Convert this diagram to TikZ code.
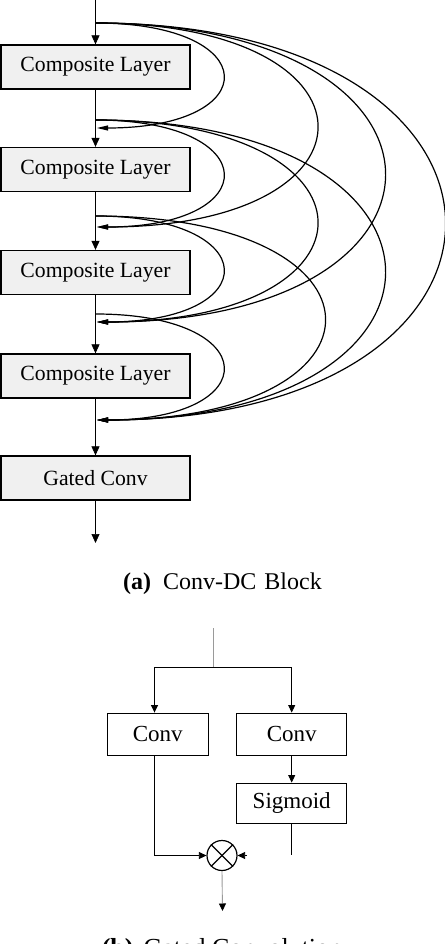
\documentclass[tikz,border=0pt]{standalone}
\usepackage{fontspec}
\setmainfont{Liberation Serif}
\usetikzlibrary{arrows.meta}
\definecolor{boxgray}{HTML}{F0F0F0}
\definecolor{linegray}{HTML}{9A9A9A}
\begin{document}
\begin{tikzpicture}[x=1pt,y=-1pt,
  layerbox/.style={draw=black, line width=1.3pt, fill=boxgray, minimum width=189pt, minimum height=44pt, inner sep=0pt, font=\fontsize{21.7}{26}\selectfont},
  plainbox/.style={draw=black, line width=0.9pt, minimum height=42pt, inner sep=0pt, font=\fontsize{23}{27}\selectfont},
  mainarrow/.style={line width=0.7pt, -{Triangle[length=9pt,width=8pt]}},
  skiparrow/.style={line width=1.2pt, -{Triangle[length=11pt,width=5pt]}},
  barrow/.style={line width=0.8pt, -{Triangle[length=7.5pt,width=7pt]}},
  thinline/.style={line width=0.8pt},
  grayline/.style={line width=0.9pt, draw=linegray},
  captiona/.style={anchor=base, inner sep=0pt, font=\fontsize{24}{28}\selectfont},
  captionb/.style={anchor=base, inner sep=0pt, font=\fontsize{26}{30}\selectfont}
]
\useasboundingbox (0,0) rectangle (444,944);

% ---------- (a) Conv-DC block ----------
\node[layerbox] (b1) at (95.5,67) {Composite Layer};
\node[layerbox] (b2) at (95.5,169.5) {Composite Layer};
\node[layerbox] (b3) at (95.5,272.5) {Composite Layer};
\node[layerbox] (b4) at (95.5,376) {Composite Layer};
\node[layerbox] (g) at (95.5,478) {Gated Conv};

\coordinate (top) at (95.5,0);
\coordinate (outa) at (95.5,543);

\draw[mainarrow] (top) -- (b1.north);
\draw[mainarrow] (b1.south) -- (b2.north);
\draw[mainarrow] (b2.south) -- (b3.north);
\draw[mainarrow] (b3.south) -- (b4.north);
\draw[mainarrow] (b4.south) -- (g.north);
\draw[mainarrow] (g.south) -- (outa);

% skip connection points
\coordinate (s0) at (95.5,23);
\coordinate (s1) at (95.5,120);
\coordinate (s2) at (95.5,216);
\coordinate (s3) at (95.5,314);
\coordinate (t1) at (97,128);
\coordinate (t2) at (97,227);
\coordinate (t3) at (97,322);
\coordinate (t4) at (97,420);

% from s0
\draw[skiparrow] (s0) .. controls +(169,0) and +(169,0) .. (t1);
\draw[skiparrow] (s0) .. controls +(294,0) and +(294,0) .. (t2);
\draw[skiparrow] (s0) .. controls +(384,0) and +(384,0) .. (t3);
\draw[skiparrow] (s0) .. controls +(464,0) and +(464,0) .. (t4);
% from s1
\draw[skiparrow] (s1) .. controls +(169,0) and +(169,0) .. (t2);
\draw[skiparrow] (s1) .. controls +(294,0) and +(294,0) .. (t3);
\draw[skiparrow] (s1) .. controls +(384,0) and +(384,0) .. (t4);
% from s2
\draw[skiparrow] (s2) .. controls +(169,0) and +(169,0) .. (t3);
\draw[skiparrow] (s2) .. controls +(304,0) and +(304,0) .. (t4);
% from s3
\draw[skiparrow] (s3) .. controls +(169,0) and +(169,0) .. (t4);

\node[captiona] (capa) at (222.5,589) {\textbf{(a)}\hspace{12pt}Conv-DC\hspace{8pt}Block};

% ---------- (b) Gated convolution ----------
\node[plainbox, minimum width=101pt] (lconv) at (157.8,734) {Conv};
\node[plainbox, minimum width=110pt] (rconv) at (291.7,734) {Conv};
\node[plainbox, minimum width=110pt, minimum height=40pt] (sig) at (291.7,803) {Sigmoid};
\node[draw=black, line width=1.2pt, circle, minimum size=30pt, inner sep=0pt] (mul) at (222,855.5) {};
\draw[line width=1.2pt] (mul.north west) -- (mul.south east);
\draw[line width=1.2pt] (mul.north east) -- (mul.south west);

\coordinate (inb) at (213,628);
\coordinate (sp) at (213,667);
\coordinate (bl) at (154.5,667);
\coordinate (br) at (291.7,667);
\coordinate (sigend) at (291.7,855);
\coordinate (rin) at (247,855.5);
\coordinate (outb) at (222.5,911);

\draw[grayline] (inb) -- (sp);
\draw[thinline] (bl) -- (br);
\draw[barrow] (bl) -- (bl |- lconv.north);
\draw[barrow] (br) -- (rconv.north);
\draw[barrow] (rconv.south) -- (sig.north);
\draw[barrow] (lconv.south -| bl) |- (mul.west);
\draw[thinline] (sig.south) -- (sigend);
\draw[barrow] (rin) -- (mul.east);
\draw[grayline, -{Triangle[length=7.5pt,width=7pt,color=black]}] (mul.south) -- (outb);

\node[captionb] (capb) at (222,956) {\textbf{(b)}\hspace{10pt}Gated Convolution};
\end{tikzpicture}
\end{document}
